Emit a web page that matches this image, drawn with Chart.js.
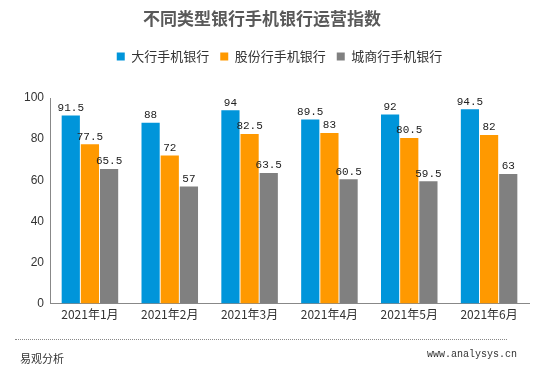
<!DOCTYPE html>
<html>
<head>
<meta charset="utf-8">
<script src="https://cdn.jsdelivr.net/npm/chart.js@4/dist/chart.umd.min.js"></script>
<style>
  html, body { margin: 0; padding: 0; background: #fff; }
  #wrap { position: relative; width: 552px; height: 371px; }
  #title { position: absolute; left: 0; width: 524px; top: 5px; text-align: center;
    font: bold 17px "Noto Sans CJK SC", sans-serif; color: #595959; }
  #rule { position: absolute; left: 15px; width: 492px; top: 339px; border-top: 1px dotted #888; }
  #src { position: absolute; left: 20px; top: 350px; font: 11px "Noto Sans CJK SC", sans-serif; color: #333; }
  #site { position: absolute; left: 427px; top: 349px; font: 10px "Liberation Mono", monospace; color: #333; }
</style>
</head>
<body>
<div id="wrap">
  <canvas id="chart" width="552" height="371"></canvas>
  <div id="title">不同类型银行手机银行运营指数</div>
  <div id="rule"></div>
  <div id="src">易观分析</div>
  <div id="site">www.analysys.cn</div>
</div>
<script>
const months = ["2021年1月", "2021年2月", "2021年3月", "2021年4月", "2021年5月", "2021年6月"];
const bigBanks = [91.5, 88, 94, 89.5, 92, 94.5];
const jointBanks = [77.5, 72, 82.5, 83, 80.5, 82];
const cityBanks = [65.5, 57, 63.5, 60.5, 59.5, 63];
const yTicks = [0, 20, 40, 60, 80, 100];

// value labels above each bar
const barLabels = {
  id: "barLabels",
  afterDatasetsDraw(chart) {
    const ctx = chart.ctx;
    ctx.save();
    ctx.font = "11px 'Liberation Mono', monospace";
    ctx.fillStyle = "#222";
    ctx.textAlign = "center";
    ctx.textBaseline = "bottom";
    chart.data.datasets.forEach((ds, i) => {
      chart.getDatasetMeta(i).data.forEach((bar, j) => {
        ctx.fillText(String(ds.data[j]), bar.x, bar.y - 2);
      });
    });
    ctx.restore();
  }
};

// extra gap under the legend, and nudge it right a little
const legendGap = {
  id: "legendGap",
  beforeInit(chart) {
    const fit = chart.legend.fit;
    chart.legend.fit = function () {
      fit.bind(chart.legend)();
      this.height += 25;
    };
  },
  afterLayout(chart) {
    chart.legend.left += 6;
    chart.legend.right += 6;
  }
};

new Chart(document.getElementById("chart"), {
  type: "bar",
  data: {
    labels: months,
    datasets: [
      { label: "大行手机银行", data: bigBanks, backgroundColor: "#0095DA" },
      { label: "股份行手机银行", data: jointBanks, backgroundColor: "#FF9900" },
      { label: "城商行手机银行", data: cityBanks, backgroundColor: "#808080" }
    ]
  },
  options: {
    responsive: false,
    animation: false,
    layout: { padding: { top: 39, left: 18, right: 23, bottom: 45 } },
    datasets: { bar: { categoryPercentage: 0.72, barPercentage: 0.95 } },
    plugins: {
      legend: {
        position: "top",
        labels: {
          boxWidth: 8, boxHeight: 8, padding: 11,
          color: "#333",
          font: { size: 13, family: "'Noto Sans CJK SC', sans-serif" }
        }
      },
      tooltip: { enabled: false }
    },
    scales: {
      x: {
        grid: { display: false, drawTicks: false },
        border: { color: "#888" },
        ticks: { color: "#333", padding: 4, font: { size: 12, family: "'Noto Sans CJK SC', sans-serif" } }
      },
      y: {
        min: 0, max: 100,
        afterBuildTicks(axis) { axis.ticks = yTicks.map(v => ({ value: v })); },
        grid: { display: false, drawTicks: false },
        border: { color: "#888" },
        ticks: { color: "#333", padding: 6, font: { size: 12, family: "'Liberation Sans', sans-serif" } }
      }
    }
  },
  plugins: [barLabels, legendGap]
});
</script>
</body>
</html>
